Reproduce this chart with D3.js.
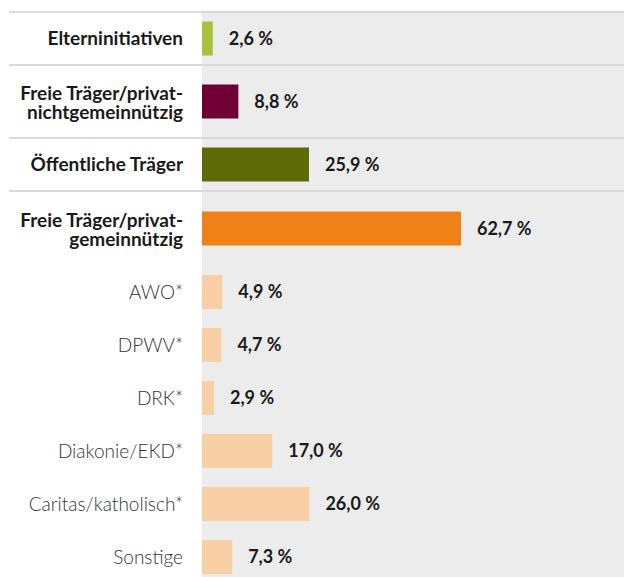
<!DOCTYPE html>
<html>
<head>
<meta charset="utf-8">
<script src="https://cdn.jsdelivr.net/npm/d3@7"></script>
<style>
  body { margin: 0; background: #fff; }
  svg { display: block; font-family: Lato, "Open Sans", sans-serif; }
  .sep { stroke: #d9d9d9; stroke-width: 2; }
  .cat-main { font-weight: 700; font-size: 19px; fill: #1a1a1a; }
  .cat-sub { font-weight: 300; font-size: 19px; fill: #333; }
  .val { font-weight: 700; font-size: 18px; fill: #1a1a1a; }
</style>
</head>
<body>
<div id="chart"></div>
<script>
const categories = [
  'Elterninitiativen',
  'Freie Träger/privat-|nichtgemeinnützig',
  'Öffentliche Träger',
  'Freie Träger/privat-|gemeinnützig',
  'AWO*',
  'DPWV*',
  'DRK*',
  'Diakonie/EKD*',
  'Caritas/katholisch*',
  'Sonstige'
];
const values = [2.6, 8.8, 25.9, 62.7, 4.9, 4.7, 2.9, 17.0, 26.0, 7.3];
const levels = ['main', 'main', 'main', 'main', 'sub', 'sub', 'sub', 'sub', 'sub', 'sub'];
const barColors = ['#a9c23c', '#6f0035', '#5e6a08', '#ef8119', '#f9cfa6', '#f9cfa6', '#f9cfa6', '#f9cfa6', '#f9cfa6', '#f9cfa6'];

const width = 624;
const height = 577;
const plotLeft = 202;
const labelRight = 183;
const plotTop = 12;
const barHeight = 34;

const rows = categories.map((c, i) => ({
  lines: c.split('|'),
  value: values[i],
  level: levels[i],
  color: barColors[i]
}));

// row heights: single line 53, two lines 73
let yCursor = plotTop;
rows.forEach((r) => {
  r.h = r.lines.length > 1 ? 73 : 53;
  r.y0 = yCursor;
  yCursor += r.h;
  r.cy = r.y0 + r.h / 2;
});
rows[3].cy += 1;
rows.forEach((r) => { if (r.level === 'sub') r.cy += 1.5; });

const x = d3.scaleLinear()
  .domain([0, 100])
  .range([plotLeft, plotLeft + 413]);

const fmt = v => d3.format('.1f')(v).replace('.', ',') + '\u00A0%';

const svg = d3.select('#chart').append('svg')
  .attr('width', width)
  .attr('height', height);

svg.append('rect')
  .attr('x', plotLeft)
  .attr('y', plotTop)
  .attr('width', width - plotLeft)
  .attr('height', height - plotTop)
  .attr('fill', '#ececec');

// separators between the top-level rows
const sepYs = [plotTop].concat(rows.slice(0, 3).map(r => r.y0 + r.h));
svg.selectAll('.sep')
  .data(sepYs)
  .enter()
  .append('line')
    .attr('class', 'sep')
    .attr('x1', 9)
    .attr('x2', width)
    .attr('y1', d => d)
    .attr('y2', d => d);

const row = svg.selectAll('.row')
  .data(rows)
  .enter()
  .append('g')
    .attr('class', 'row');

row.append('rect')
  .attr('x', x(0))
  .attr('y', d => d.cy - barHeight / 2)
  .attr('width', d => x(d.value) - x(0))
  .attr('height', barHeight)
  .attr('fill', d => d.color);

row.append('text')
  .attr('class', 'val')
  .attr('x', d => x(d.value) + 16)
  .attr('y', d => d.cy)
  .attr('dy', '0.35em')
  .text(d => fmt(d.value));

const label = row.append('text')
  .attr('class', d => d.level === 'main' ? 'cat-main' : 'cat-sub')
  .attr('text-anchor', 'end')
  .attr('x', labelRight)
  .attr('y', d => d.cy);

label.selectAll('tspan')
  .data(d => d.lines.map((t, i) => ({ t, i, n: d.lines.length })))
  .enter()
  .append('tspan')
    .attr('x', labelRight)
    .attr('dy', d => d.i === 0 ? `${0.35 - (d.n - 1) * 0.44}em` : '1.02em')
    .text(d => d.t);
</script>
</body>
</html>
